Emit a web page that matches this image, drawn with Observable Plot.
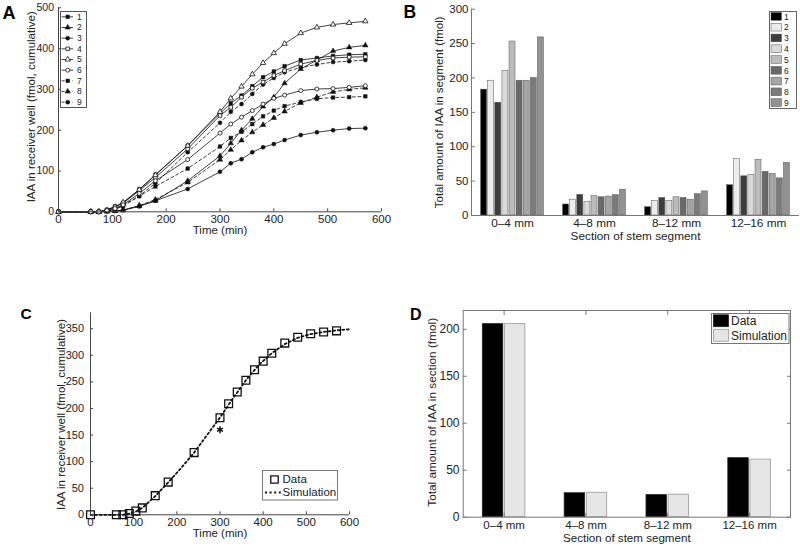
<!DOCTYPE html>
<html><head><meta charset="utf-8">
<script src="https://cdn.jsdelivr.net/npm/d3@7"></script>
<script src="https://cdn.jsdelivr.net/npm/@observablehq/plot@0.6"></script>
<style>
body{margin:0;background:#fff;}
#wrap{position:relative;width:800px;height:546px;overflow:hidden;background:#fff;font-family:"Liberation Sans",Arial,Helvetica,sans-serif;}
.letter{position:absolute;font-weight:bold;line-height:1;color:#000;}
</style></head><body><div id="wrap"></div>
<script>
// ---------------- DATA ----------------
// Panel A: cumulative IAA in receiver well, 9 replicate segments
const timesA = [0,60,75,90,105,120,150,180,240,300,320,340,360,380,400,420,450,480,510,540,570];
const seriesNamesA = ["1","2","3","4","5","6","7","8","9"];
const a1 = [0,0,0,5,13,22,55,91,162,241,266,285,308,330,344,357,372,377,382,385,386];
const a2 = [0,0,0,1,2,4,15,27,76,137,168,200,228,258,281,315,350,372,394,403,408];
const a3 = [0,0,0,1,2,4,13,27,56,98,119,129,146,158,166,176,188,195,200,204,205];
const a4 = [0,0,0,4,12,21,52,84,154,236,256,281,303,318,334,346,362,371,377,379,380];
const a5 = [0,0,0,4,12,23,54,90,162,245,278,307,337,365,389,412,438,452,459,463,467];
const a6 = [0,0,0,3,8,17,45,76,128,193,215,232,248,264,278,286,297,301,302,305,309];
const a7 = [0,0,0,2,6,14,38,62,106,160,181,196,215,234,248,259,269,277,280,281,283];
const a8 = [0,0,0,1,2,4,15,30,72,128,152,175,195,213,230,246,267,281,294,300,304];
const a9 = [0,0,0,3,7,16,39,70,146,218,245,264,289,312,328,342,354,361,367,369,372];
const ticksAX = [0,100,200,300,400,500,600];
const ticksAY = [0,100,200,300,400,500];

// Panel B: IAA per section, 9 segments
const sectionsB = ["0\u20134 mm","4\u20138 mm","8\u201312 mm","12\u201316 mm"];
const seriesNamesB = ["1","2","3","4","5","6","7","8","9"];
const b1 = [183,16,12,44];
const b2 = [196,23,21,82];
const b3 = [164,30,25.5,57];
const b4 = [210,20,21,59];
const b5 = [253,28,26.5,81];
const b6 = [196,26.5,25.5,63.5];
const b7 = [196,27.5,23,60.5];
const b8 = [200,29.5,31,54];
const b9 = [259,37.5,35,76.5];
const ticksBY = [0,50,100,150,200,250,300];

// Panel C: mean data vs simulation
const timesC = [0,60,75,90,105,120,150,180,240,300,320,340,360,380,400,420,450,480,510,540,570];
const dataC = [0,0,0,2.5,7,13,36,61.5,117,182.5,209,231,253,273,289,304,323,334,340.5,344,346];
const simTimesC = [0,75,90,105,120,150,180,210,240,270,300,330,360,390,420,450,480,510,540,570,600];
const simC = [0,0,2,6,13,35,61,88,117,150,183,219,253,282,304,321,333,340,344,347,349];
const outlierTimeC = [300];
const outlierValueC = [160];
const legendC = ["Data","Simulation"];
const ticksCX = [0,100,200,300,400,500,600];
const ticksCY = [0,50,100,150,200,250,300,350];

// Panel D: section totals, data vs simulation
const sectionsD = ["0\u20134 mm","4\u20138 mm","8\u201312 mm","12\u201316 mm"];
const dataD = [205.5,25.5,23.5,62.8];
const simD = [205.5,26,24,61.3];
const legendD = ["Data","Simulation"];
const ticksDY = [0,50,100,150,200];

// ---------------- STYLE ----------------
const FONT = '"Liberation Sans", Arial, Helvetica, sans-serif';
const wrap = document.getElementById("wrap");
function place(node, left, top) {
  node.style.position = "absolute";
  node.style.left = left + "px";
  node.style.top = top + "px";
  wrap.appendChild(node);
}
function letter(txt, left, top, size) {
  const d = document.createElement("div");
  d.className = "letter";
  d.textContent = txt;
  d.style.left = left + "px"; d.style.top = top + "px"; d.style.fontSize = size + "px";
  wrap.appendChild(d);
}
const style = {fontFamily: FONT, fontSize: "11.5px", background: "transparent", overflow: "visible", color: "#222"};
function xTitle(txt, dy, fs) {
  return Plot.text([txt], {text: d => d, frameAnchor: "bottom", textAnchor: "middle", lineAnchor: "middle", dy, fontSize: fs, fill: "#222"});
}
function yTitle(txt, dx, dy, fs) {
  return Plot.text([txt], {text: d => d, frameAnchor: "left", rotate: -90, textAnchor: "middle", lineAnchor: "middle", dx, dy, fontSize: fs, fill: "#222"});
}

// ---------------- PANEL A ----------------
const valuesA = [a1,a2,a3,a4,a5,a6,a7,a8,a9];
const tableA = seriesNamesA.flatMap((name, i) => timesA.map((t, j) => ({series: name, t, v: valuesA[i][j]})));
const solidA = new Set(["1","2","3","4","5","6"]);
const openA = new Set(["4","5","6"]);
const symbolRangeA = ["square","triangle","circle","square","triangle","circle","square","triangle","circle"];
const axisA = "#444";

const plotA = Plot.plot({
  width: 400, height: 245,
  marginLeft: 58, marginRight: 19, marginTop: 7.3, marginBottom: 33.7,
  style,
  x: {domain: [0, 600], axis: null, label: null},
  y: {domain: [0, 500], axis: null, label: null},
  symbol: {domain: seriesNamesA, range: symbolRangeA},
  marks: [
    Plot.line(tableA.filter(d => solidA.has(d.series)), {x: "t", y: "v", z: "series", stroke: "#111", strokeWidth: 0.8}),
    Plot.line(tableA.filter(d => !solidA.has(d.series)), {x: "t", y: "v", z: "series", stroke: "#111", strokeWidth: 0.8, strokeDasharray: "3,2.5"}),
    Plot.dot(tableA.filter(d => !openA.has(d.series)), {x: "t", y: "v", symbol: "series", r: 2, fill: "#111", stroke: "#111", strokeWidth: 0.5}),
    Plot.dot(tableA.filter(d => openA.has(d.series)), {x: "t", y: "v", symbol: "series", r: 2, fill: "white", stroke: "#111", strokeWidth: 0.8}),
    Plot.ruleX([0], {stroke: axisA}),
    Plot.ruleY([0], {stroke: axisA}),
    Plot.axisX({ticks: ticksAX, tickSize: -3, fill: "none", stroke: axisA, label: null}),
    Plot.axisX({ticks: ticksAX, tickSize: 0, tickPadding: 3.5, fontSize: 11.5, fill: "#222", label: null}),
    Plot.axisY({ticks: ticksAY, tickSize: -3, fill: "none", stroke: axisA, label: null}),
    Plot.axisY({ticks: ticksAY, tickSize: 0, tickPadding: 4.5, fontSize: 10.5, fill: "#222", label: null}),
    xTitle("Time (min)", 18.7, 11.5),
    yTitle("IAA in receiver well (fmol, cumulative)", -27, -3, 11.5)
  ]
});
place(plotA, 0, 0);

// legend A
const rowsA = seriesNamesA.map((name, row) => ({name, row}));
const legA = Plot.plot({
  width: 26, height: 96, margin: 0, style: {...style, fontSize: "8.5px"},
  x: {domain: [0, 26], range: [0, 26], axis: null},
  y: {domain: [-0.5, seriesNamesA.length - 0.5], range: [0, 96], axis: null},
  symbol: {domain: seriesNamesA, range: symbolRangeA},
  marks: [
    Plot.frame({stroke: "#555", fill: "white"}),
    Plot.ruleY(rowsA.filter(d => solidA.has(d.name)), {y: "row", x1: 1.5, x2: 13, stroke: "#111", strokeWidth: 0.8}),
    Plot.ruleY(rowsA.filter(d => !solidA.has(d.name)), {y: "row", x1: 1.5, x2: 13, stroke: "#111", strokeWidth: 0.8, strokeDasharray: "3,2.5"}),
    Plot.dot(rowsA.filter(d => !openA.has(d.name)), {x: () => 7.2, y: "row", symbol: "name", r: 2, fill: "#111", stroke: "#111", strokeWidth: 0.5}),
    Plot.dot(rowsA.filter(d => openA.has(d.name)), {x: () => 7.2, y: "row", symbol: "name", r: 2, fill: "white", stroke: "#111", strokeWidth: 0.8}),
    Plot.text(rowsA, {x: () => 16.5, y: "row", text: "name", textAnchor: "start", fontSize: 8.5, fill: "#222"})
  ]
});
place(legA, 60, 11);

// ---------------- PANEL B ----------------
const valuesB = [b1,b2,b3,b4,b5,b6,b7,b8,b9];
const colorsB = ["#000000","#ececec","#3d3d3d","#dadada","#bcbcbc","#696969","#a5a5a5","#7b7b7b","#929292"];
const tableB = seriesNamesB.flatMap((name, si) => sectionsB.map((section, ci) => ({series: name, si, section, ci, value: valuesB[si][ci]})));
const groupWB = 0.78, stepB = groupWB / seriesNamesB.length, barWB = stepB * 0.84;
const leftB = d => d.ci + 1 - groupWB / 2 + d.si * stepB + (stepB - barWB) / 2;
const axisB = "#777";

const plotB = Plot.plot({
  width: 400, height: 245,
  marginLeft: 71, marginRight: 1, marginTop: 8.7, marginBottom: 30,
  style,
  x: {domain: [0.5, 4.5], axis: null, label: null},
  y: {domain: [0, 300], axis: null, label: null},
  color: {type: "identity"},
  marks: [
    Plot.rect(tableB, {x1: leftB, x2: d => leftB(d) + barWB, y1: 0, y2: "value", fill: d => colorsB[d.si], stroke: "#555", strokeWidth: 0.5}),
    Plot.ruleX([0.5], {stroke: axisB}),
    Plot.ruleY([0], {stroke: axisB}),
    Plot.axisY({ticks: ticksBY, tickSize: -4, fill: "none", stroke: axisB, label: null}),
    Plot.axisY({ticks: ticksBY, tickSize: 0, tickPadding: 3, fontSize: 11.5, fill: "#222", label: null}),
    Plot.axisX({ticks: [1,2,3,4], tickFormat: i => sectionsB[i - 1], tickSize: 0, tickPadding: 3, fontSize: 11.8, fill: "#222", label: null}),
    xTitle("Section of stem segment", 20.3, 11.8),
    yTitle("Total amount of IAA in segment (fmol)", -32, 0, 11.5)
  ]
});
place(plotB, 400, 0);

// legend B
const rowsB = seriesNamesB.map((name, row) => ({name, row}));
const legB = Plot.plot({
  width: 27, height: 97, margin: 0, style: {...style, fontSize: "8.5px"},
  x: {domain: [0, 27], range: [0, 27], axis: null},
  y: {domain: [-0.5, seriesNamesB.length - 0.5], range: [0, 97], axis: null},
  color: {type: "identity"},
  marks: [
    Plot.frame({stroke: "#666", fill: "white"}),
    Plot.rect(rowsB, {x1: 2, x2: 12.5, y1: d => d.row - 0.36, y2: d => d.row + 0.36, fill: d => colorsB[d.row], stroke: "#555", strokeWidth: 0.5}),
    Plot.text(rowsB, {x: () => 14.5, y: "row", text: "name", textAnchor: "start", fontSize: 8.5, fill: "#222"})
  ]
});
place(legB, 769, 10.5);

// ---------------- PANEL C ----------------
const tableC = timesC.map((t, i) => ({t, v: dataC[i]}));
const simTableC = simTimesC.map((t, i) => ({t, v: simC[i]}));
const outlierTableC = outlierTimeC.map((t, i) => ({t, v: outlierValueC[i]}));
const axisC = "#444";

const plotC = Plot.plot({
  width: 400, height: 286,
  marginLeft: 90, marginRight: 51, marginTop: 52.3, marginBottom: 31.7,
  style,
  x: {domain: [0, 600], axis: null, label: null},
  y: {domain: [0, 380], axis: null, label: null},
  marks: [
    Plot.ruleX([0], {stroke: axisC}),
    Plot.ruleY([0], {stroke: axisC}),
    Plot.line(simTableC, {x: "t", y: "v", stroke: "#111", strokeWidth: 1.8, strokeDasharray: "2,2.6"}),
    Plot.dot(tableC, {x: "t", y: "v", symbol: "square", r: 4.4, fill: "none", stroke: "#111", strokeWidth: 1.3}),
    Plot.dot(outlierTableC, {x: "t", y: "v", symbol: "asterisk", r: 3.2, stroke: "#111", strokeWidth: 1.5}),
    Plot.axisX({ticks: ticksCX, tickSize: -3, fill: "none", stroke: axisC, label: null}),
    Plot.axisX({ticks: ticksCX, tickSize: 0, tickPadding: 3.2, fontSize: 11.5, fill: "#222", label: null}),
    Plot.axisY({ticks: ticksCY, tickSize: -3, fill: "none", stroke: axisC, label: null}),
    Plot.axisY({ticks: ticksCY, tickSize: 0, tickPadding: 6.5, fontSize: 11, fill: "#222", label: null}),
    xTitle("Time (min)", 19, 11.5),
    yTitle("IAA in receiver well (fmol, cumulative)", -29, 0.7, 11.5)
  ]
});
place(plotC, 0, 260);

// legend C
const rowsC = legendC.map((name, row) => ({name, row}));
const legC = Plot.plot({
  width: 75, height: 29.5, margin: 0, style,
  x: {domain: [0, 75], range: [0, 75], axis: null},
  y: {domain: [-0.5, 1.5], range: [2.5, 28.5], axis: null},
  marks: [
    Plot.frame({stroke: "#777", fill: "white"}),
    Plot.dot(rowsC.filter(d => d.row === 0), {x: () => 12, y: "row", symbol: "square", r: 4.2, fill: "none", stroke: "#111", strokeWidth: 1.3}),
    Plot.ruleY(rowsC.filter(d => d.row === 1), {y: "row", x1: 3, x2: 19.5, stroke: "#111", strokeWidth: 1.8, strokeDasharray: "2,2.6"}),
    Plot.text(rowsC, {x: () => 20, y: "row", text: "name", textAnchor: "start", fontSize: 11.5, fill: "#222"})
  ]
});
place(legC, 262, 470);

// ---------------- PANEL D ----------------
const tableD = sectionsD.flatMap((section, ci) => [
  {kind: "Data", ki: 0, ci, value: dataD[ci]},
  {kind: "Simulation", ki: 1, ci, value: simD[ci]}
]);
const stepD = 0.27, barWD = 0.25;
const leftD = d => d.ci + 1 - stepD + d.ki * stepD + (stepD - barWD) / 2;
const fillD = ["#000000", "#e6e6e6"];
const strokeD = ["#222", "#999"];
const axisD = "#777";

const plotD = Plot.plot({
  width: 400, height: 286,
  marginLeft: 62.7, marginRight: 10, marginTop: 50, marginBottom: 29.3,
  style,
  x: {domain: [0.5, 4.5], axis: null, label: null},
  y: {domain: [0, 220], axis: null, label: null},
  color: {type: "identity"},
  marks: [
    Plot.rect(tableD, {x1: leftD, x2: d => leftD(d) + barWD, y1: 0, y2: "value", fill: d => fillD[d.ki], stroke: d => strokeD[d.ki], strokeWidth: 0.8}),
    Plot.frame({stroke: axisD}),
    Plot.axisY({ticks: ticksDY, tickSize: -4, fill: "none", stroke: axisD, label: null}),
    Plot.axisY({anchor: "right", ticks: ticksDY, tickSize: -4, fill: "none", stroke: axisD, label: null}),
    Plot.axisX({ticks: [1,2,3,4], tickSize: -4, fill: "none", stroke: axisD, label: null}),
    Plot.axisX({anchor: "top", ticks: [1,2,3,4], tickSize: -4, fill: "none", stroke: axisD, label: null}),
    Plot.axisY({ticks: ticksDY, tickSize: 0, tickPadding: 3.7, fontSize: 12, fill: "#222", label: null}),
    Plot.axisX({ticks: [1,2,3,4], tickFormat: i => sectionsD[i - 1], tickSize: 0, tickPadding: 3.6, fontSize: 11.5, fill: "#222", label: null}),
    xTitle("Section of stem segment", 21.4, 11.6),
    yTitle("Total amount of IAA in section (fmol)", -31, -1.5, 11.8)
  ]
});
place(plotD, 400, 260);

// legend D
const rowsD = legendD.map((name, row) => ({name, row}));
const legD = Plot.plot({
  width: 77.5, height: 30, margin: 0, style: {...style, fontSize: "12px"},
  x: {domain: [0, 77.5], range: [0, 77.5], axis: null},
  y: {domain: [-0.5, 1.5], range: [0.5, 29.5], axis: null},
  color: {type: "identity"},
  marks: [
    Plot.frame({stroke: "#777", fill: "white"}),
    Plot.rect(rowsD, {x1: 2.5, x2: 17.5, y1: d => d.row - 0.41, y2: d => d.row + 0.41, fill: d => fillD[d.row], stroke: d => strokeD[d.row], strokeWidth: 0.8}),
    Plot.text(rowsD, {x: () => 19.5, y: "row", text: "name", textAnchor: "start", fontSize: 12, fill: "#222"})
  ]
});
place(legD, 710.5, 313);

// panel letters
letter("A", 2.5, 4.3, 18);
letter("B", 403.5, 4.4, 17.5);
letter("C", 20.5, 306.3, 15.5);
letter("D", 410, 307, 16);
</script></body></html>
